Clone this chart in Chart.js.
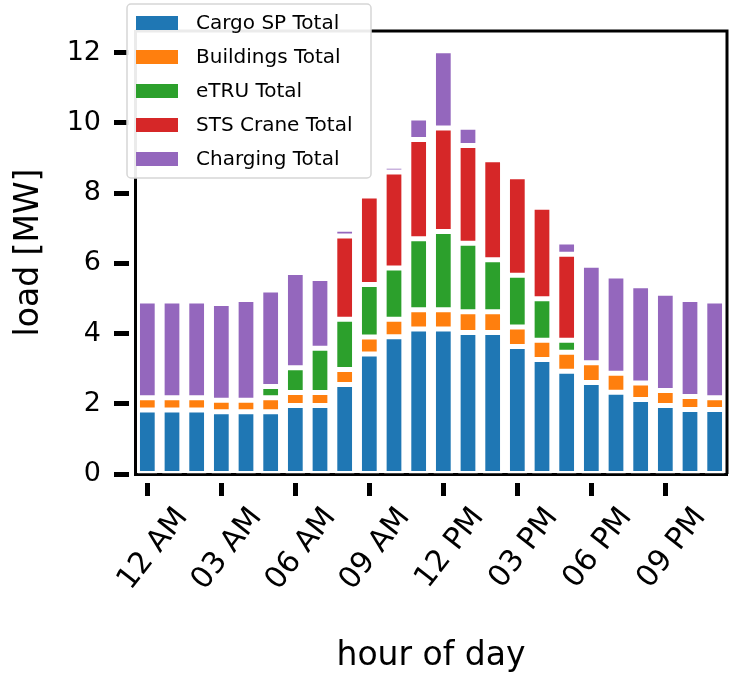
<!DOCTYPE html>
<html>
<head>
<meta charset="utf-8">
<script src="https://cdn.jsdelivr.net/npm/chart.js@4"></script>
<style>
  body { margin: 0; background: #fff; }
  #wrap { width: 738px; height: 677px; position: relative; }
</style>
</head>
<body>
<div id="wrap"><canvas id="chart"></canvas></div>
<script>
const hours = ['12 AM','01 AM','02 AM','03 AM','04 AM','05 AM','06 AM','07 AM','08 AM','09 AM','10 AM','11 AM',
               '12 PM','01 PM','02 PM','03 PM','04 PM','05 PM','06 PM','07 PM','08 PM','09 PM','10 PM','11 PM']
const cargoSP   = [1.82,1.82,1.82,1.77,1.77,1.77,1.95,1.95,2.55,3.42,3.91,4.13,4.13,4.03,4.03,3.63,3.26,2.93,2.61,2.33,2.12,1.95,1.84,1.84]
const buildings = [0.35,0.35,0.35,0.33,0.33,0.40,0.37,0.37,0.43,0.48,0.50,0.55,0.55,0.59,0.59,0.56,0.55,0.54,0.56,0.54,0.47,0.43,0.37,0.33]
const eTRU      = [0,0,0,0,0,0.32,0.71,1.26,1.43,1.50,1.46,2.02,2.23,1.95,1.48,1.47,1.18,0.34,0,0,0,0,0,0]
const stsCrane  = [0,0,0,0,0,0,0,0,2.37,2.52,2.73,2.83,2.95,2.79,2.85,2.81,2.61,2.45,0,0,0,0,0,0]
const charging  = [2.76,2.76,2.76,2.76,2.87,2.75,2.71,1.99,0.19,0.14,0.17,0.61,2.20,0.52,0.12,0.12,0.12,0.35,2.78,2.77,2.77,2.77,2.76,2.76]
const yTicks = [0,2,4,6,8,10,12]

const FONT = 'DejaVu Sans'
const colors = ['#1f77b4','#ff7f0e','#2ca02c','#d62728','#9467bd']
const names = ['Cargo SP Total','Buildings Total','eTRU Total','STS Crane Total','Charging Total']
const series = [cargoSP, buildings, eTRU, stsCrane, charging]

// frame on top/right like the matplotlib box
const framePlugin = {
  id: 'frame',
  afterDatasetsDraw(chart){
    const {ctx, chartArea: a} = chart
    ctx.save()
    ctx.strokeStyle = '#000'; ctx.lineWidth = 3
    ctx.beginPath()
    ctx.moveTo(a.left, a.top); ctx.lineTo(a.right, a.top); ctx.lineTo(a.right, a.bottom)
    ctx.stroke()
    ctx.restore()
  }
}

// legend box drawn in the upper-left corner, over the axis
const legendBox = {
  id: 'legendBox',
  afterDraw(chart){
    const ctx = chart.ctx
    const x = 127, y = 4, w = 244, h = 174
    ctx.save()
    ctx.fillStyle = 'rgba(255,255,255,0.92)'
    ctx.strokeStyle = '#d6d6d6'; ctx.lineWidth = 1.5
    ctx.beginPath()
    ctx.roundRect(x, y, w, h, 4)
    ctx.fill(); ctx.stroke()
    ctx.font = '20px "' + FONT + '"'
    ctx.textBaseline = 'middle'
    chart.data.datasets.forEach((ds, i) => {
      const cy = 23 + i * 34
      ctx.fillStyle = ds.backgroundColor
      ctx.fillRect(136, cy - 7, 42, 14)
      ctx.fillStyle = '#000'
      ctx.fillText(ds.label, 196, cy + 1)
    })
    ctx.restore()
  }
}

const ctx = document.getElementById('chart').getContext('2d')
new Chart(ctx, {
  type: 'bar',
  data: {
    labels: hours,
    datasets: series.map((d, i) => ({
      label: names[i], data: d, backgroundColor: colors[i],
      borderColor: '#fff', borderWidth: 2.5, borderSkipped: false,
      barPercentage: 0.8, categoryPercentage: 1.0
    }))
  },
  options: {
    responsive: true, maintainAspectRatio: false, animation: false,
    layout: { padding: { top: 31, right: 11, left: 0, bottom: 0 } },
    plugins: { legend: { display: false }, tooltip: { enabled: false } },
    scales: {
      x: {
        stacked: true,
        afterFit: s => { s.height = 203; s.paddingLeft = 0; s.paddingRight = 0 },
        grid: {
          offset: false, drawOnChartArea: false,
          tickLength: 22, tickWidth: 5,
          tickColor: c => (c.index % 3 === 0 ? '#000' : 'rgba(0,0,0,0)'),
          tickBorderDash: [15, 7], tickBorderDashOffset: 15
        },
        border: { color: '#000', width: 3 },
        ticks: {
          autoSkip: false, minRotation: 52, maxRotation: 52,
          labelOffset: 35, padding: 5,
          color: '#000', font: { family: FONT, size: 30 },
          callback: (v, i) => (i % 3 === 0 ? hours[i] : '')
        },
        title: { display: true, text: 'hour of day', color: '#000',
                 font: { family: FONT, size: 33 }, padding: { top: 0, bottom: 1 } }
      },
      y: {
        stacked: true, min: 0, max: 12.62,
        afterFit: s => { s.width = 135 },
        afterBuildTicks: s => { s.ticks = yTicks.map(v => ({ value: v })) },
        grid: {
          drawOnChartArea: false, tickLength: 21, tickWidth: 5, tickColor: '#000',
          tickBorderDash: [15, 6]
        },
        border: { color: '#000', width: 3 },
        ticks: { color: '#000', padding: 13, font: { family: FONT, size: 27 } },
        title: { display: true, text: 'load [MW]', color: '#000',
                 font: { family: FONT, size: 33 }, padding: { top: 10, bottom: 0 } }
      }
    }
  },
  plugins: [framePlugin, legendBox]
})
</script>
</body>
</html>
